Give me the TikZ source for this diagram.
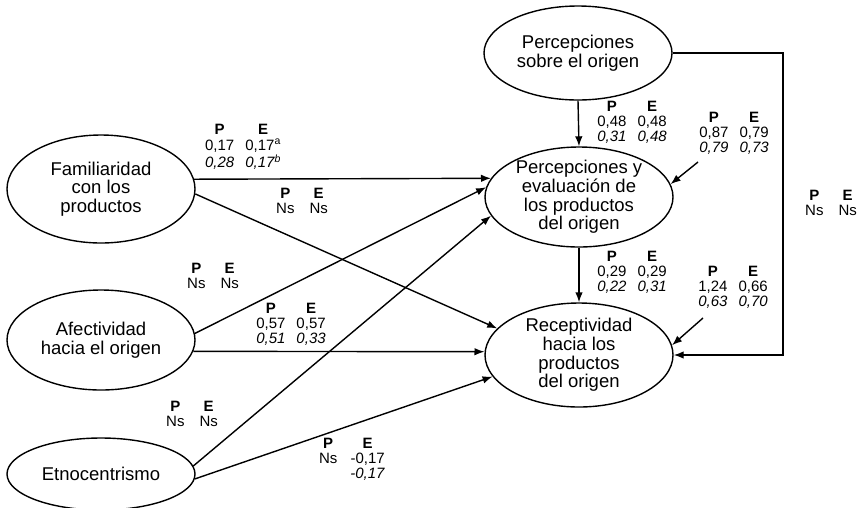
\documentclass[tikz,border=0pt]{standalone}
\usepackage{fontspec}
\setmainfont{Liberation Sans}
\usetikzlibrary{shapes.geometric,arrows.meta}
\newcommand{\coefs}[4]{\begin{tabular}{@{}c@{\hspace{11pt}}c@{}}\textbf{P}&\textbf{E}\\#1&#2\\\textit{#3}&\textit{#4}\end{tabular}}
\newcommand{\nsns}{\begin{tabular}{@{}c@{\hspace{15pt}}c@{}}\textbf{P}&\textbf{E}\\Ns&Ns\end{tabular}}
\tikzset{
    latent/.style={draw, ellipse, line width=1.4pt, minimum width=188pt, inner sep=0pt, inner ysep=-4pt, align=center, font=\fontsize{18.5}{18.7}\selectfont},
    coef/.style={inner sep=0pt, font=\fontsize{15}{15}\selectfont},
    effect/.style={-{Latex[length=10pt,width=7.5pt]}, line width=1.4pt}
}
\begin{document}
\begin{tikzpicture}[x=1pt,y=-1pt]
    \useasboundingbox (0,0) rectangle (858,507);
    \node[latent, minimum height=108pt] (fam) at (101,189) {Familiaridad\\con los\\productos};
    \node[latent, minimum height=100pt] (afe) at (101,340) {Afectividad\\hacia el origen};
    \node[latent, minimum height=72pt] (etn) at (101,474) {Etnocentrismo};
    \node[latent, minimum height=94pt] (por) at (578,53) {Percepciones\\sobre el origen};
    \node[latent, minimum height=100pt] (pev) at (579,197) {Percepciones y\\evaluación de\\los productos\\del origen};
    \node[latent, minimum height=104pt] (rec) at (579,355) {Receptividad\\hacia los\\productos\\del origen};
    \coordinate (e1) at (698,162);
    \coordinate (e2) at (703,318);
    \coordinate (bend) at (783,0);
    \draw[effect] (fam.6) -- (pev.168);
    \draw[effect] (fam.-3) -- (rec.162);
    \draw[effect] (afe.4) -- (pev.174);
    \draw[effect] (afe.-7) -- (rec.178);
    \draw[effect] (etn.5) -- (pev.192);
    \draw[effect] (etn.-3) -- (rec.194);
    \draw[effect] (por.south) -- (pev.north);
    \draw[effect] (pev.south) -- (rec.north);
    \draw[effect] (e1) -- (pev.8);
    \draw[effect] (e2) -- (rec.6);
    \draw[effect] (por.east) -| (bend |- rec.east) -- (rec.east);
    \node[coef] (c1) at (243,148) {\coefs{0,17}{0,17\textsuperscript{a}}{0,28}{0,17\textsuperscript{b}}};
    \node[coef] (c2) at (302,203) {\nsns};
    \node[coef] (c3) at (213,278) {\nsns};
    \node[coef] (c4) at (291,325) {\coefs{0,57}{0,57}{0,51}{0,33}};
    \node[coef] (c5) at (192,416) {\nsns};
    \node[coef] (c6) at (352,460) {\begin{tabular}{@{}c@{\hspace{13pt}}c@{}}\textbf{P}&\textbf{E}\\Ns&-0,17\\&\textit{-0,17}\end{tabular}};
    \node[coef] (c7) at (632,123) {\coefs{0,48}{0,48}{0,31}{0,48}};
    \node[coef] (c8) at (734,134) {\coefs{0,87}{0,79}{0,79}{0,73}};
    \node[coef] (c9) at (632,273) {\coefs{0,29}{0,29}{0,22}{0,31}};
    \node[coef] (c10) at (733,288) {\coefs{1,24}{0,66}{0,63}{0,70}};
    \node[coef] (c11) at (831,205) {\nsns};
\end{tikzpicture}
\end{document}
